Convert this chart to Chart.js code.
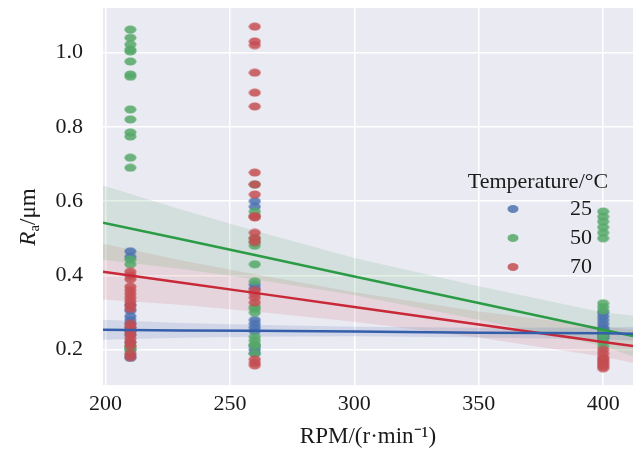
<!DOCTYPE html>
<html>
<head>
<meta charset="utf-8">
<script src="https://cdn.jsdelivr.net/npm/chart.js@4.4.1/dist/chart.umd.min.js"></script>
<style>
  body { margin: 0; background: #fff; }
  #wrap { width: 633px; height: 450px; }
</style>
</head>
<body>
<div id="wrap"><canvas id="myChart"></canvas></div>
<script>
// spindle speeds where samples were taken
const speeds = [210, 260, 400];
const temps = ["25", "50", "70"];

// Ra values per temperature, one list per speed (same order as speeds)
const ra25 = [
  [0.465, 0.45, 0.32, 0.305, 0.29, 0.28, 0.27, 0.26, 0.25, 0.24, 0.22, 0.2, 0.185, 0.178],
  [0.60, 0.585, 0.375, 0.365, 0.28, 0.27, 0.26, 0.25, 0.21, 0.20, 0.19],
  [0.30, 0.29, 0.28, 0.27, 0.26, 0.255, 0.25, 0.245, 0.24, 0.235, 0.23],
];
const ra50 = [
  [1.062, 1.04, 1.022, 1.008, 1.003, 0.976, 0.941, 0.935, 0.847, 0.82, 0.785, 0.774, 0.717, 0.69, 0.443, 0.43, 0.21, 0.205, 0.2],
  [0.645, 0.572, 0.56, 0.50, 0.49, 0.48, 0.43, 0.384, 0.316, 0.31, 0.30, 0.235, 0.225, 0.215, 0.21, 0.19],
  [0.572, 0.558, 0.545, 0.53, 0.515, 0.50, 0.325, 0.315, 0.305, 0.245, 0.235, 0.22, 0.21],
];
const ra70 = [
  [0.41, 0.40, 0.39, 0.37, 0.36, 0.35, 0.34, 0.33, 0.32, 0.31, 0.27, 0.26, 0.25, 0.24, 0.23, 0.22, 0.21, 0.19, 0.18],
  [1.07, 1.03, 1.02, 0.946, 0.892, 0.855, 0.677, 0.645, 0.618, 0.56, 0.556, 0.515, 0.50, 0.49, 0.36, 0.35, 0.34, 0.327, 0.174, 0.165, 0.158],
  [0.20, 0.19, 0.18, 0.175, 0.17, 0.165, 0.16, 0.155, 0.15],
];

// fitted regression lines and 95% bands
const fitX = [199, 230, 260, 300, 350, 400, 412];
const fit25 = [0.254, 0.252, 0.251, 0.249, 0.246, 0.244, 0.243];
const low25 = [0.227, 0.232, 0.235, 0.236, 0.233, 0.228, 0.225];
const high25 = [0.281, 0.272, 0.267, 0.262, 0.259, 0.26, 0.261];
const fit50 = [0.542, 0.498, 0.455, 0.397, 0.326, 0.254, 0.237];
const low50 = [0.442, 0.418, 0.39, 0.347, 0.281, 0.21, 0.182];
const high50 = [0.642, 0.578, 0.52, 0.447, 0.371, 0.30, 0.292];
const fit70 = [0.41, 0.381, 0.353, 0.315, 0.268, 0.221, 0.21];
const low70 = [0.335, 0.321, 0.303, 0.275, 0.233, 0.181, 0.165];
const high70 = [0.485, 0.441, 0.403, 0.355, 0.303, 0.261, 0.255];

const xTicks = [200, 250, 300, 350, 400];
const yTicks = [0.2, 0.4, 0.6, 0.8, 1.0];

const dotColors = ["rgba(76,114,176,0.85)", "rgba(85,168,104,0.85)", "rgba(196,78,82,0.85)"];
const lineColors = ["rgb(52,94,170)", "rgb(44,155,70)", "rgb(200,40,55)"];
const bandColors = ["rgba(76,114,176,0.16)", "rgba(85,168,104,0.16)", "rgba(196,78,82,0.14)"];
const FONT = "'Liberation Serif', 'Times New Roman', serif";

function dot(color) {
  const c = document.createElement("canvas");
  c.width = 13;
  c.height = 9;
  const g = c.getContext("2d");
  g.fillStyle = color;
  g.beginPath();
  g.ellipse(6.5, 4.5, 6, 4, 0, 0, Math.PI * 2);
  g.fill();
  return c;
}

function toPoints(groups) {
  const pts = [];
  groups.forEach((vals, i) => vals.forEach(v => pts.push({ x: speeds[i], y: v })));
  return pts;
}
function toLine(ys) {
  return fitX.map((x, i) => ({ x: x, y: ys[i] }));
}

const series = [
  { ra: ra25, fit: fit25, low: low25, high: high25 },
  { ra: ra50, fit: fit50, low: low50, high: high50 },
  { ra: ra70, fit: fit70, low: low70, high: high70 },
];

const datasets = [];
series.forEach((s, i) => {
  datasets.push({
    type: "scatter", label: temps[i], data: toPoints(s.ra),
    pointStyle: dot(dotColors[i]), order: 20 - i,
  });
  datasets.push({
    type: "line", label: temps[i] + " fit", data: toLine(s.fit),
    borderColor: lineColors[i], borderWidth: 2.5, pointRadius: 0, fill: false, order: 10,
  });
  datasets.push({
    type: "line", label: temps[i] + " hi", data: toLine(s.high),
    borderWidth: 0, pointRadius: 0, fill: "+1", backgroundColor: bandColors[i], order: 30,
  });
  datasets.push({
    type: "line", label: temps[i] + " lo", data: toLine(s.low),
    borderWidth: 0, pointRadius: 0, fill: false, order: 30,
  });
});

const plotBg = {
  id: "plotBg",
  beforeDraw(chart) {
    const { ctx, chartArea: a } = chart;
    ctx.save();
    ctx.fillStyle = "#EAEAF2";
    ctx.fillRect(a.left, a.top, a.right - a.left, a.bottom - a.top);
    ctx.restore();
  },
};

const yTitle = {
  id: "yTitle",
  afterDraw(chart) {
    const ctx = chart.ctx;
    ctx.save();
    ctx.translate(27, 217);
    ctx.rotate(-Math.PI / 2);
    ctx.fillStyle = "#1a1a1a";
    ctx.textBaseline = "alphabetic";
    const big = "23px " + FONT, it = "italic 23px " + FONT, small = "15px " + FONT;
    ctx.font = it; const w1 = ctx.measureText("R").width;
    ctx.font = small; const w2 = ctx.measureText("a").width;
    ctx.font = big; const w3 = ctx.measureText("/μm").width;
    let x = -(w1 + w2 + w3) / 2;
    const base = 8;
    ctx.font = it; ctx.fillText("R", x, base); x += w1;
    ctx.font = small; ctx.fillText("a", x, base + 4); x += w2;
    ctx.font = big; ctx.fillText("/μm", x, base);
    ctx.restore();
  },
};

const legendBox = {
  id: "legendBox",
  afterDraw(chart) {
    const ctx = chart.ctx;
    ctx.save();
    ctx.fillStyle = "#1a1a1a";
    ctx.font = "22px " + FONT;
    ctx.textAlign = "center";
    ctx.textBaseline = "middle";
    ctx.fillText("Temperature/°C", 538, 182);
    const rowsY = [209, 238, 267];
    temps.forEach((t, i) => {
      ctx.fillStyle = dotColors[i];
      ctx.beginPath();
      ctx.ellipse(513, rowsY[i], 5.5, 4, 0, 0, Math.PI * 2);
      ctx.fill();
      ctx.fillStyle = "#1a1a1a";
      ctx.textAlign = "right";
      ctx.fillText(t, 592, rowsY[i]);
    });
    ctx.restore();
  },
};

const ctx = document.getElementById("myChart").getContext("2d");
const myChart = new Chart(ctx, {
  type: "scatter",
  data: { datasets: datasets },
  options: {
    responsive: true,
    maintainAspectRatio: false,
    animation: false,
    layout: { autoPadding: false, padding: { top: 8, right: 0, left: 0, bottom: 0 } },
    plugins: {
      legend: { display: false },
      tooltip: { enabled: false },
    },
    scales: {
      x: {
        type: "linear",
        min: 199,
        max: 412,
        afterBuildTicks: (s) => { s.ticks = xTicks.map(v => ({ value: v })); },
        afterFit: (s) => { s.height = 65; s.paddingLeft = 0; s.paddingRight = 0; },
        grid: { color: "#ffffff", lineWidth: 1.5, drawTicks: false },
        border: { display: false },
        ticks: { color: "#1a1a1a", font: { family: FONT, size: 22 }, padding: 6, maxRotation: 0 },
        title: {
          display: true, text: "RPM/(r·min⁻¹)", color: "#1a1a1a",
          font: { family: FONT, size: 23, lineHeight: 1.1 }, padding: { top: 0, bottom: 0 },
        },
      },
      y: {
        min: 0.105,
        max: 1.12,
        afterBuildTicks: (s) => { s.ticks = yTicks.map(v => ({ value: v })); },
        afterFit: (s) => { s.width = 103; s.paddingTop = 0; s.paddingBottom = 0; },
        grid: { color: "#ffffff", lineWidth: 1.5, drawTicks: false },
        border: { display: false },
        ticks: {
          color: "#1a1a1a", font: { family: FONT, size: 22 }, padding: 20,
          callback: (v) => v.toFixed(1),
        },
      },
    },
  },
  plugins: [plotBg, yTitle, legendBox],
});
</script>
</body>
</html>
